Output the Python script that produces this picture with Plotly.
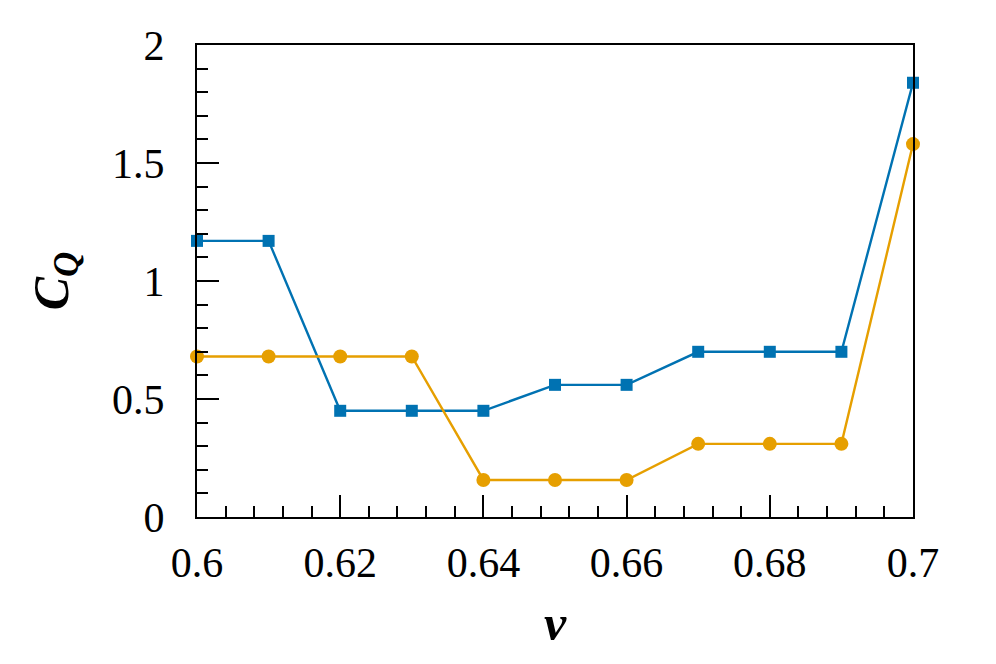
import plotly.graph_objects as go

nu = [0.60, 0.61, 0.62, 0.63, 0.64, 0.65, 0.66, 0.67, 0.68, 0.69, 0.70]
cq_blue = [1.17, 1.17, 0.45, 0.45, 0.45, 0.56, 0.56, 0.70, 0.70, 0.70, 1.84]
cq_orange = [0.68, 0.68, 0.68, 0.68, 0.157, 0.157, 0.157, 0.31, 0.31, 0.31, 1.58]

x_ticks = [0.60, 0.62, 0.64, 0.66, 0.68, 0.70]
x_labels = ["0.6", "0.62", "0.64", "0.66", "0.68", "0.7"]
y_ticks = [0, 0.5, 1, 1.5, 2]
y_labels = ["0", "0.5", "1", "1.5", "2"]

BLUE = "#0072B2"
ORANGE = "#E69F00"
FONT = "Liberation Serif"

fig = go.Figure()
fig.add_trace(go.Scatter(
    x=nu, y=cq_blue, mode="lines+markers", cliponaxis=False,
    line=dict(color=BLUE, width=2.4),
    marker=dict(symbol="square", size=12, color=BLUE),
))
fig.add_trace(go.Scatter(
    x=nu, y=cq_orange, mode="lines+markers", cliponaxis=False,
    line=dict(color=ORANGE, width=2.4),
    marker=dict(symbol="circle", size=14, color=ORANGE),
))

axis_common = dict(
    showgrid=False, zeroline=False,
    showline=True, linecolor="black", linewidth=2, mirror=True,
    ticks="inside", ticklen=22, tickwidth=2, tickcolor="black",
    tickfont=dict(family=FONT, size=42, color="black"),
)

fig.update_xaxes(
    range=[0.6, 0.7], tickvals=x_ticks, ticktext=x_labels,
    minor=dict(ticks="inside", ticklen=11, tickwidth=2, tickcolor="black", dtick=0.004, tick0=0.6),
    ticklabelstandoff=8,
    title=dict(text="<b><i>ν</i></b>", font=dict(family=FONT, size=50, color="black"), standoff=20),
    **axis_common,
)
fig.update_yaxes(
    range=[0, 2], tickvals=y_ticks, ticktext=y_labels,
    minor=dict(ticks="inside", ticklen=11, tickwidth=2, tickcolor="black", dtick=0.1, tick0=0),
    ticklabelstandoff=22,
    title=dict(text="<b><i>C<sub>Q</sub></i></b>", font=dict(family=FONT, size=50, color="black"), standoff=28),
    **axis_common,
)

# the page body adds an 8px offset, so the margins are shifted to compensate
fig.update_layout(
    width=996, height=664,
    margin=dict(l=189, r=91, t=37, b=155, autoexpand=False),
    paper_bgcolor="white", plot_bgcolor="white",
    showlegend=False,
)

fig.write_html("out.html")
